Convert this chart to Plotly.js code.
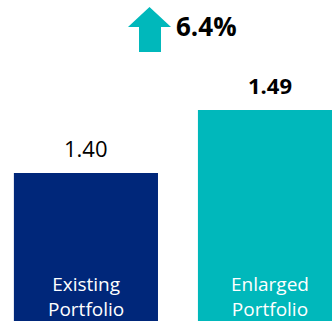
<!DOCTYPE html>
<html>
<head>
<meta charset="utf-8">
<script src="https://cdn.plot.ly/plotly-3.0.1.min.js"></script>
<style>html,body{margin:0;padding:0;background:#fff;}#chart{width:332px;height:321px;}</style>
</head>
<body>
<div id="chart"></div>
<script>
var categories = ['Existing<br>Portfolio', 'Enlarged<br>Portfolio'];
var values = [1.40, 1.49];
var barColors = ['#00277A', '#00B8BB'];
var labelWeights = ['normal', 'bold'];

var W = 332, H = 321;
var font = 'Open Sans, Noto Sans, sans-serif';
var xs = categories.map(function(c, i){ return i; });

var trace = {
  type: 'bar',
  x: xs,
  y: values,
  width: 0.783,
  marker: {color: barColors},
  hoverinfo: 'none',
  cliponaxis: true
};

var annotations = [];
values.forEach(function(v, i){
  annotations.push({
    x: i, y: v, xref: 'x', yref: 'y',
    text: v.toFixed(2), showarrow: false,
    yanchor: 'middle', yshift: 25,
    font: {family: font, size: 22, color: '#000', weight: labelWeights[i]}
  });
  annotations.push({
    x: i, y: 1 - 296 / H, xref: 'x', yref: 'paper',
    text: categories[i], showarrow: false,
    yanchor: 'middle',
    font: {family: font, size: 19, color: '#ffffff'}
  });
});

var pct = ((values[1] / values[0] - 1) * 100).toFixed(1) + '%';
annotations.push({
  x: 174 / W, y: 1 - 26 / H, xref: 'paper', yref: 'paper',
  text: pct, showarrow: false, xanchor: 'left', yanchor: 'middle',
  font: {family: font, size: 26, color: '#000', weight: 'bold'}
});

function px(x){ return (x / W).toFixed(4); }
function py(y){ return (1 - y / H).toFixed(4); }
var arrowPts = [[128,27],[149.5,7],[171,27],[161,27],[161,52],[139,52],[139,27]];
var path = arrowPts.map(function(p, i){ return (i ? 'L' : 'M') + px(p[0]) + ',' + py(p[1]); }).join(' ') + ' Z';

var layout = {
  width: W, height: H,
  margin: {l: 0, r: 0, t: 0, b: 0},
  paper_bgcolor: '#ffffff', plot_bgcolor: '#ffffff',
  showlegend: false,
  xaxis: {range: [-0.467, 1.337], visible: false, fixedrange: true},
  yaxis: {range: [1.189, 1.647], visible: false, fixedrange: true},
  annotations: annotations,
  shapes: [{type: 'path', xref: 'paper', yref: 'paper', path: path,
            fillcolor: '#00B8BB', line: {width: 0}}]
};

Plotly.newPlot('chart', [trace], layout, {staticPlot: true, displayModeBar: false});
</script>
</body>
</html>
